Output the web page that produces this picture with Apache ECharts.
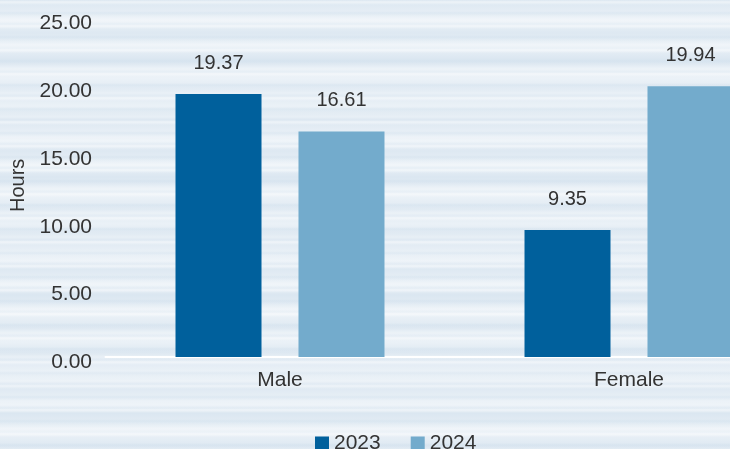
<!DOCTYPE html>
<html>
<head>
<meta charset="utf-8">
<script src="https://cdn.jsdelivr.net/npm/echarts@6/dist/echarts.min.js"></script>
<style>
html,body{margin:0;padding:0;}
#c{width:730px;height:449px;
background-color:#e2ebf3;
background-image:
repeating-linear-gradient(180deg, rgba(255,255,255,0) 0px, rgba(255,255,255,0.5) 2px, rgba(255,255,255,0) 5px, rgba(255,255,255,0) 11px, rgba(200,218,233,0.3) 13px, rgba(255,255,255,0) 16px, rgba(255,255,255,0.35) 21px, rgba(255,255,255,0) 24px),
repeating-linear-gradient(180deg, rgba(210,225,238,0.45) 0px, rgba(250,252,254,0.4) 19px, rgba(214,228,240,0.35) 33px, rgba(245,249,252,0.45) 47px, rgba(210,225,238,0.45) 59px);
}
</style>
</head>
<body>
<div id="c"></div>
<script>
const categories = ["Male", "Female"];
const seriesNames = ["2023", "2024"];
const values2023 = [19.37, 9.35];
const values2024 = [16.61, 19.94];
const yTicks = [0, 5, 10, 15, 20, 25];

const colors = ["#00609c", "#73abcc"];
const font = "Liberation Sans, Arial, Helvetica, sans-serif";
const txt = '#333333';
const chart = echarts.init(document.getElementById('c'), null, {renderer:'canvas'});
const mk = (name, data, color) => ({
  name, type:'bar', data, barWidth:86, barGap:'43%',
  itemStyle:{color},
  label:{show:true, position:'top', distance:21, color:txt, fontSize:20, fontFamily:font,
    formatter:p=>p.value.toFixed(2)}
});
chart.setOption({
  backgroundColor:'transparent',
  animation:false,
  grid:{left:105.5, top:17.6, width:698, height:339.4, outerBoundsMode:'none', containLabel:false},
  legend:{left:310, top:428, itemWidth:14, itemHeight:14, itemGap:30, icon:'rect',
    textStyle:{color:txt, fontSize:21, fontFamily:font}, data:seriesNames},
  xAxis:{type:'category', data:categories,
    axisLine:{lineStyle:{color:'#ffffff', width:2}}, axisTick:{show:false},
    axisLabel:{color:txt, fontSize:21, fontFamily:font, margin:13}},
  yAxis:{type:'value', min:yTicks[0], max:yTicks[yTicks.length-1], interval:5,
    name:'Hours', nameLocation:'middle', nameRotate:90, nameGap:77,
    nameTextStyle:{color:txt, fontSize:20, fontFamily:font, padding:[0,0,0,4]},
    axisLine:{show:false}, axisTick:{show:false}, splitLine:{show:false},
    axisLabel:{color:txt, fontSize:21, fontFamily:font, margin:13.5,
      verticalAlign:'top', lineHeight:11,
      formatter:v=>v.toFixed(2)}},
  series:[mk(seriesNames[0], values2023, colors[0]), mk(seriesNames[1], values2024, colors[1])]
});
</script>
</body>
</html>
